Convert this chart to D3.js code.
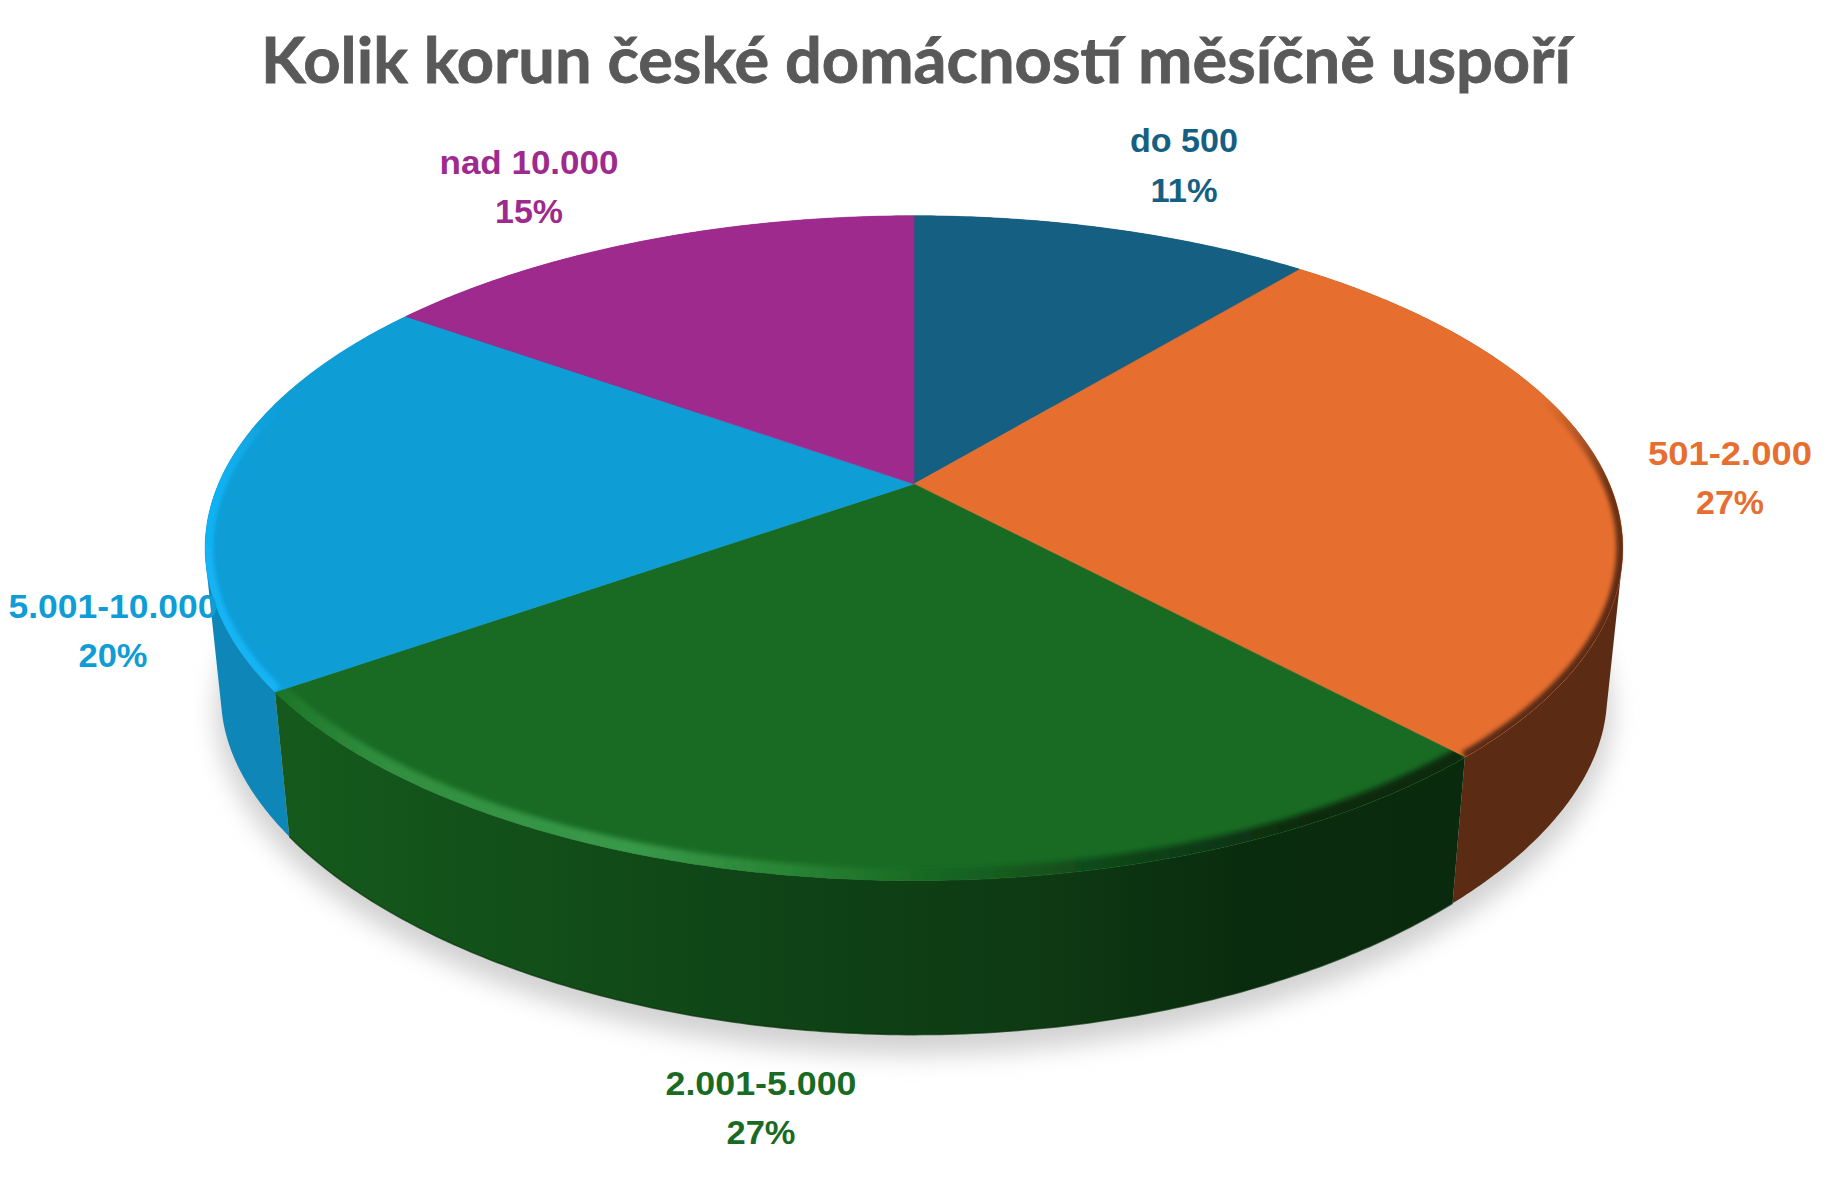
<!DOCTYPE html>
<html lang="cs"><head><meta charset="utf-8">
<script src="https://cdn.jsdelivr.net/npm/d3@7/dist/d3.min.js"></script>
<style>html,body{margin:0;padding:0;background:#fff}svg{display:block}text{font-family:"Liberation Sans",Arial,sans-serif;font-weight:700}</style>
</head><body><svg id="c" width="1828" height="1181"></svg>
<script>
const titleText = "Kolik korun české domácností měsíčně uspoří";
const categories = ["do 500","501-2.000","2.001-5.000","5.001-10.000","nad 10.000"];
const values = [11,27.1,27.1,19.7,15.1];
const percentLabels = ["11%","27%","27%","20%","15%"];
const topColors = ["#156082","#E66F30","#196B24","#0F9DD6","#9E2A8E"];
const sideColors = ["#0e4058","#5B2B13","#0F4618","#0E86B8","#6c1d62"];

// layout of labels: [centre x, first baseline, second baseline, first width, second width]
const labelLayout = [
  [1184,152,202,108,67],[1730,465,514,164,68],[761,1095,1144,191,69],[113,618,667,209,69],[529,174,223,179,68]
];
const W=1828,H=1181,cx=914;
const topFace={y0:484,A:695.5,B:320,kx:0.193,ky:0.193};
const baseFace={y0:636,A:680,B:295,kx:0.193,ky:0.26};
function project(f,a){const u=Math.sin(a),v=-Math.cos(a);return [cx+f.A*u/(1-f.kx*v),f.y0+f.B*v/(1-f.ky*v)];}
const arcs=d3.pie().sort(null).value(d=>d)(values);
const line=d3.line();
const samples=(a,b)=>{const n=Math.max(2,Math.ceil((b-a)/0.01));return d3.range(n+1).map(i=>a+(b-a)*i/n);};

const svg=d3.select("#c");
svg.append("rect").attr("width",W).attr("height",H).attr("fill","#fff");
const defs=svg.append("defs");
function blur(id,s){defs.append("filter").attr("id",id).attr("filterUnits","userSpaceOnUse").attr("x",0).attr("y",0).attr("width",W).attr("height",H)
  .append("feGaussianBlur").attr("stdDeviation",s);}
blur("shadow",12);blur("soft",2);blur("softer",2.6);
function grad(id,horizontal,a,b,stops){const g=defs.append("linearGradient").attr("id",id).attr("gradientUnits","userSpaceOnUse")
  .attr("x1",horizontal?a:0).attr("x2",horizontal?b:0).attr("y1",horizontal?0:a).attr("y2",horizontal?0:b);
  stops.forEach(s=>g.append("stop").attr("offset",s[0]).attr("stop-color",s[1]).attr("stop-opacity",s[2]==null?1:s[2]));}
grad("greenSide",true,276,1452,[[0,"#155A1C"],[0.2,"#125019"],[0.45,"#0F4216"],[0.65,"#0E3A13"],[0.82,"#0A2C0E"],[1,"#0A2A0D"]]);
grad("greenRim",true,276,1460,[[0,"#1c7428"],[0.08,"#2f8d3e"],[0.3,"#39994a"],[0.44,"#288334"],[0.54,"#196B24"],[0.72,"#0f4418"],[0.88,"#0A2A0E"],[1,"#0A2A0E"]]);
grad("blueRim",false,400,560,[[0,"#12B4F5",0],[0.5,"#12B4F5",0.9],[1,"#12B4F5",1]]);
grad("orangeRim",false,400,580,[[0,"#5B2B13",0],[0.45,"#5B2B13",0.85],[1,"#5B2B13",1]]);

// ground shadow
const allA=samples(0,2*Math.PI);
svg.append("path").attr("d",line(allA.map(a=>{const p=project(baseFace,a);return [p[0],p[1]+15];}))+"Z")
  .attr("fill","#d2d2d2").attr("stroke","#d2d2d2").attr("stroke-width",10).attr("filter","url(#shadow)");

// side walls: one path of same-wound quads, so the silhouette between the two rims is filled
function wallPath(s){
  const as=samples(s.startAngle,s.endAngle);
  return d3.pairs(as).map(([a,b])=>{
    const q=[project(topFace,a),project(topFace,b),project(baseFace,b),project(baseFace,a)];
    if(d3.polygonArea(q)<0) q.reverse();
    return line(q)+"Z";
  }).join("");
}
[0,4,3,1,2].forEach(i=>{
  svg.append("path").attr("d",wallPath(arcs[i])).attr("fill",i===2?"url(#greenSide)":sideColors[i]);
});
const gA=samples(arcs[2].startAngle,arcs[2].endAngle);
svg.append("path").attr("d",line(gA.map(a=>project(baseFace,a)))).attr("fill","none").attr("stroke","#08300c").attr("stroke-width",1.5).attr("opacity",.7);

// top faces
const rims={1:["url(#orangeRim)",13,"soft"],2:["url(#greenRim)",24,"softer"],3:["url(#blueRim)",16,"soft"]};
arcs.forEach((s,i)=>{
  const arcPts=samples(s.startAngle,s.endAngle).map(a=>project(topFace,a));
  const d=line([[cx,topFace.y0]].concat(arcPts))+"Z";
  svg.append("path").attr("d",d).attr("fill",topColors[i]).attr("stroke",topColors[i]).attr("stroke-width",0.6);
  if(rims[i]){
    defs.append("clipPath").attr("id","clip"+i).append("path").attr("d",d);
    svg.append("g").attr("clip-path","url(#clip"+i+")").append("path")
      .attr("d",line(arcPts)).attr("fill","none").attr("stroke",rims[i][0]).attr("stroke-width",rims[i][1]).attr("filter","url(#"+rims[i][2]+")");
  }
});

// title and labels
function txt(t,x,y,size,len,fill,font,sw){const e=svg.append("text").attr("x",x).attr("y",y).attr("text-anchor","middle").attr("font-size",size)
  .attr("textLength",len).attr("lengthAdjust","spacingAndGlyphs").attr("fill",fill).text(t);
  if(font)e.style("font-family",font);
  if(sw)e.attr("stroke",fill).attr("stroke-width",sw);}
txt(titleText,916,83,64,1310,"#595959","Lato",0.8);
categories.forEach((c,i)=>{const l=labelLayout[i];
  txt(c,l[0],l[1],33,l[3],topColors[i]);
  txt(percentLabels[i],l[0],l[2],33,l[4],topColors[i]);
});
</script></body></html>
